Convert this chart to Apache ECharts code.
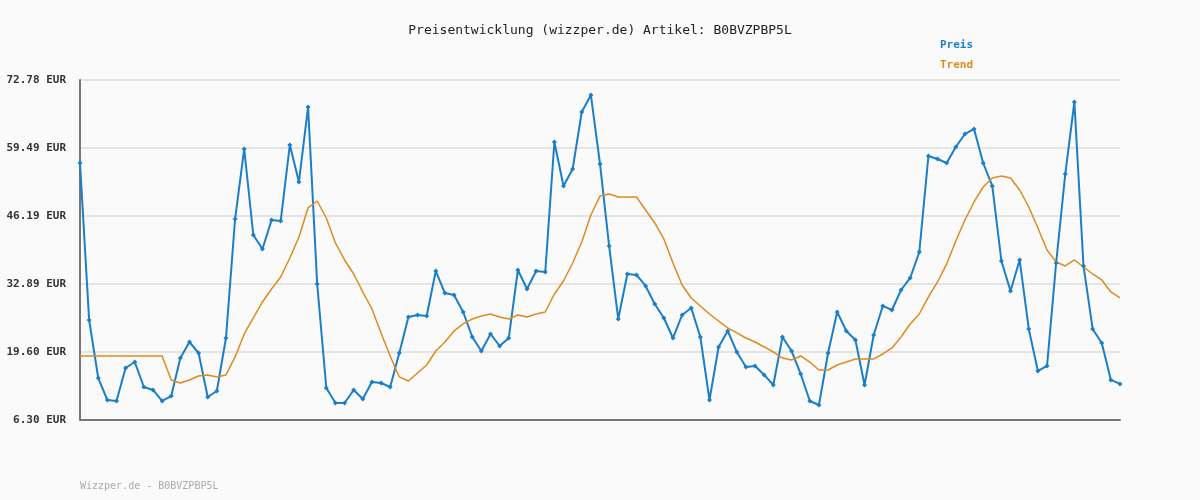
<!DOCTYPE html>
<html><head><meta charset="utf-8">
<script src="https://cdn.jsdelivr.net/npm/echarts@6/dist/echarts.min.js"></script>
<style>html,body{margin:0;background:#fafafa}#c{width:1200px;height:500px}</style>
</head><body><div id="c"></div>
<script>
const preis = [56.55,25.85,14.51,10.21,10.02,16.47,17.64,12.75,12.17,10.02,
10.99,18.42,21.55,19.40,10.80,11.97,22.33,45.60,59.29,42.47,
39.73,45.41,45.22,60.07,52.84,67.50,32.89,12.56,9.62,9.62,
12.17,10.41,13.73,13.54,12.75,19.40,26.44,26.83,26.64,35.43,
31.13,30.74,27.42,22.53,19.79,23.12,20.77,22.33,35.63,31.91,
35.43,35.24,60.66,52.06,55.38,66.52,69.85,56.36,40.33,26.05,
34.85,34.66,32.51,28.99,26.25,22.33,26.83,28.21,22.53,10.21,
20.58,23.71,19.60,16.67,16.86,15.11,13.15,22.53,19.79,15.30,
10.02,9.24,19.40,27.42,23.71,21.95,13.15,22.93,28.60,27.81,
31.72,34.07,39.15,57.92,57.34,56.55,59.68,62.22,63.20,56.55,
52.06,37.39,31.53,37.59,24.10,15.89,16.86,37.00,54.40,68.48,
36.42,24.10,21.36,14.13,13.35];
const trend = [18.82,18.82,18.82,18.82,18.82,18.82,18.82,18.82,18.82,18.82,
14.13,13.54,14.13,14.91,15.11,14.72,15.11,18.63,23.12,26.25,
29.38,31.91,34.27,37.98,42.09,47.76,49.12,45.80,40.91,37.59,
34.85,31.33,28.01,23.32,18.82,14.72,13.93,15.50,17.06,19.79,
21.55,23.71,25.08,26.05,26.64,27.03,26.44,26.05,26.83,26.44,
27.03,27.42,30.94,33.48,37.00,41.11,46.39,50.10,50.49,49.91,
49.91,49.91,47.36,44.82,41.70,37.00,32.70,30.16,28.60,27.03,
25.66,24.30,23.32,22.33,21.55,20.58,19.60,18.42,18.04,18.82,
17.64,16.08,16.08,17.06,17.64,18.24,18.24,18.24,19.21,20.39,
22.53,25.08,27.03,30.36,33.29,36.81,41.30,45.41,48.93,51.86,
53.62,54.01,53.62,51.27,47.95,43.85,39.54,37.20,36.42,37.59,
36.22,34.85,33.68,31.33,30.16];
const categories = preis.map((_, i) => String(i + 1));
const tickLabels = ['6.30 EUR','19.60 EUR','32.89 EUR','46.19 EUR','59.49 EUR','72.78 EUR'];
const yMin = 6.30, yMax = 72.78, yStep = 13.296;
const titleText = 'Preisentwicklung (wizzper.de) Artikel: B0BVZPBP5L';
const footer = 'Wizzper.de - B0BVZPBP5L';
const mono = '"DejaVu Sans Mono", monospace';
const chart = echarts.init(document.getElementById('c'));
chart.setOption({
  backgroundColor: '#fafafa',
  animation: false,
  title: {text: titleText, left: 'center', top: 19, textStyle: {fontFamily: mono, fontSize: 13, fontWeight: 'normal', color: '#222'}},
  graphic: [
    {type: 'text', left: 940, top: 40, style: {text: 'Preis', fill: '#1a7fc8', font: 'bold 11px ' + mono}},
    {type: 'text', left: 940, top: 60, style: {text: 'Trend', fill: '#e08a1e', font: 'bold 11px ' + mono}},
    {type: 'text', left: 80, top: 481, style: {text: footer, fill: '#aaa', font: '10px ' + mono}}
  ],
  grid: {left: 80, right: 80, top: 80, bottom: 80},
  xAxis: {type: 'category', data: categories, boundaryGap: false,
    axisLine: {lineStyle: {color: '#777', width: 2}}, axisTick: {show: false}, axisLabel: {show: false}},
  yAxis: {type: 'value', min: yMin, max: yMax, interval: yStep,
    axisLine: {show: true, lineStyle: {color: '#777', width: 2}}, axisTick: {show: false},
    splitLine: {lineStyle: {color: '#e4e4e4', width: 2}},
    axisLabel: {formatter: v => tickLabels[Math.round((v - yMin) / yStep)], fontFamily: mono, fontSize: 11, fontWeight: 'bold', color: '#333', margin: 14}},
  series: [
    {name: 'Preis', type: 'line', data: preis, symbol: 'diamond', symbolSize: 5, showAllSymbol: true,
      itemStyle: {color: '#1a7fc8'}, lineStyle: {color: '#1a7fc8', width: 2}},
    {name: 'Trend', type: 'line', data: trend, symbol: 'none', lineStyle: {color: '#e08a1e', width: 1.5}}
  ]
});
</script></body></html>
